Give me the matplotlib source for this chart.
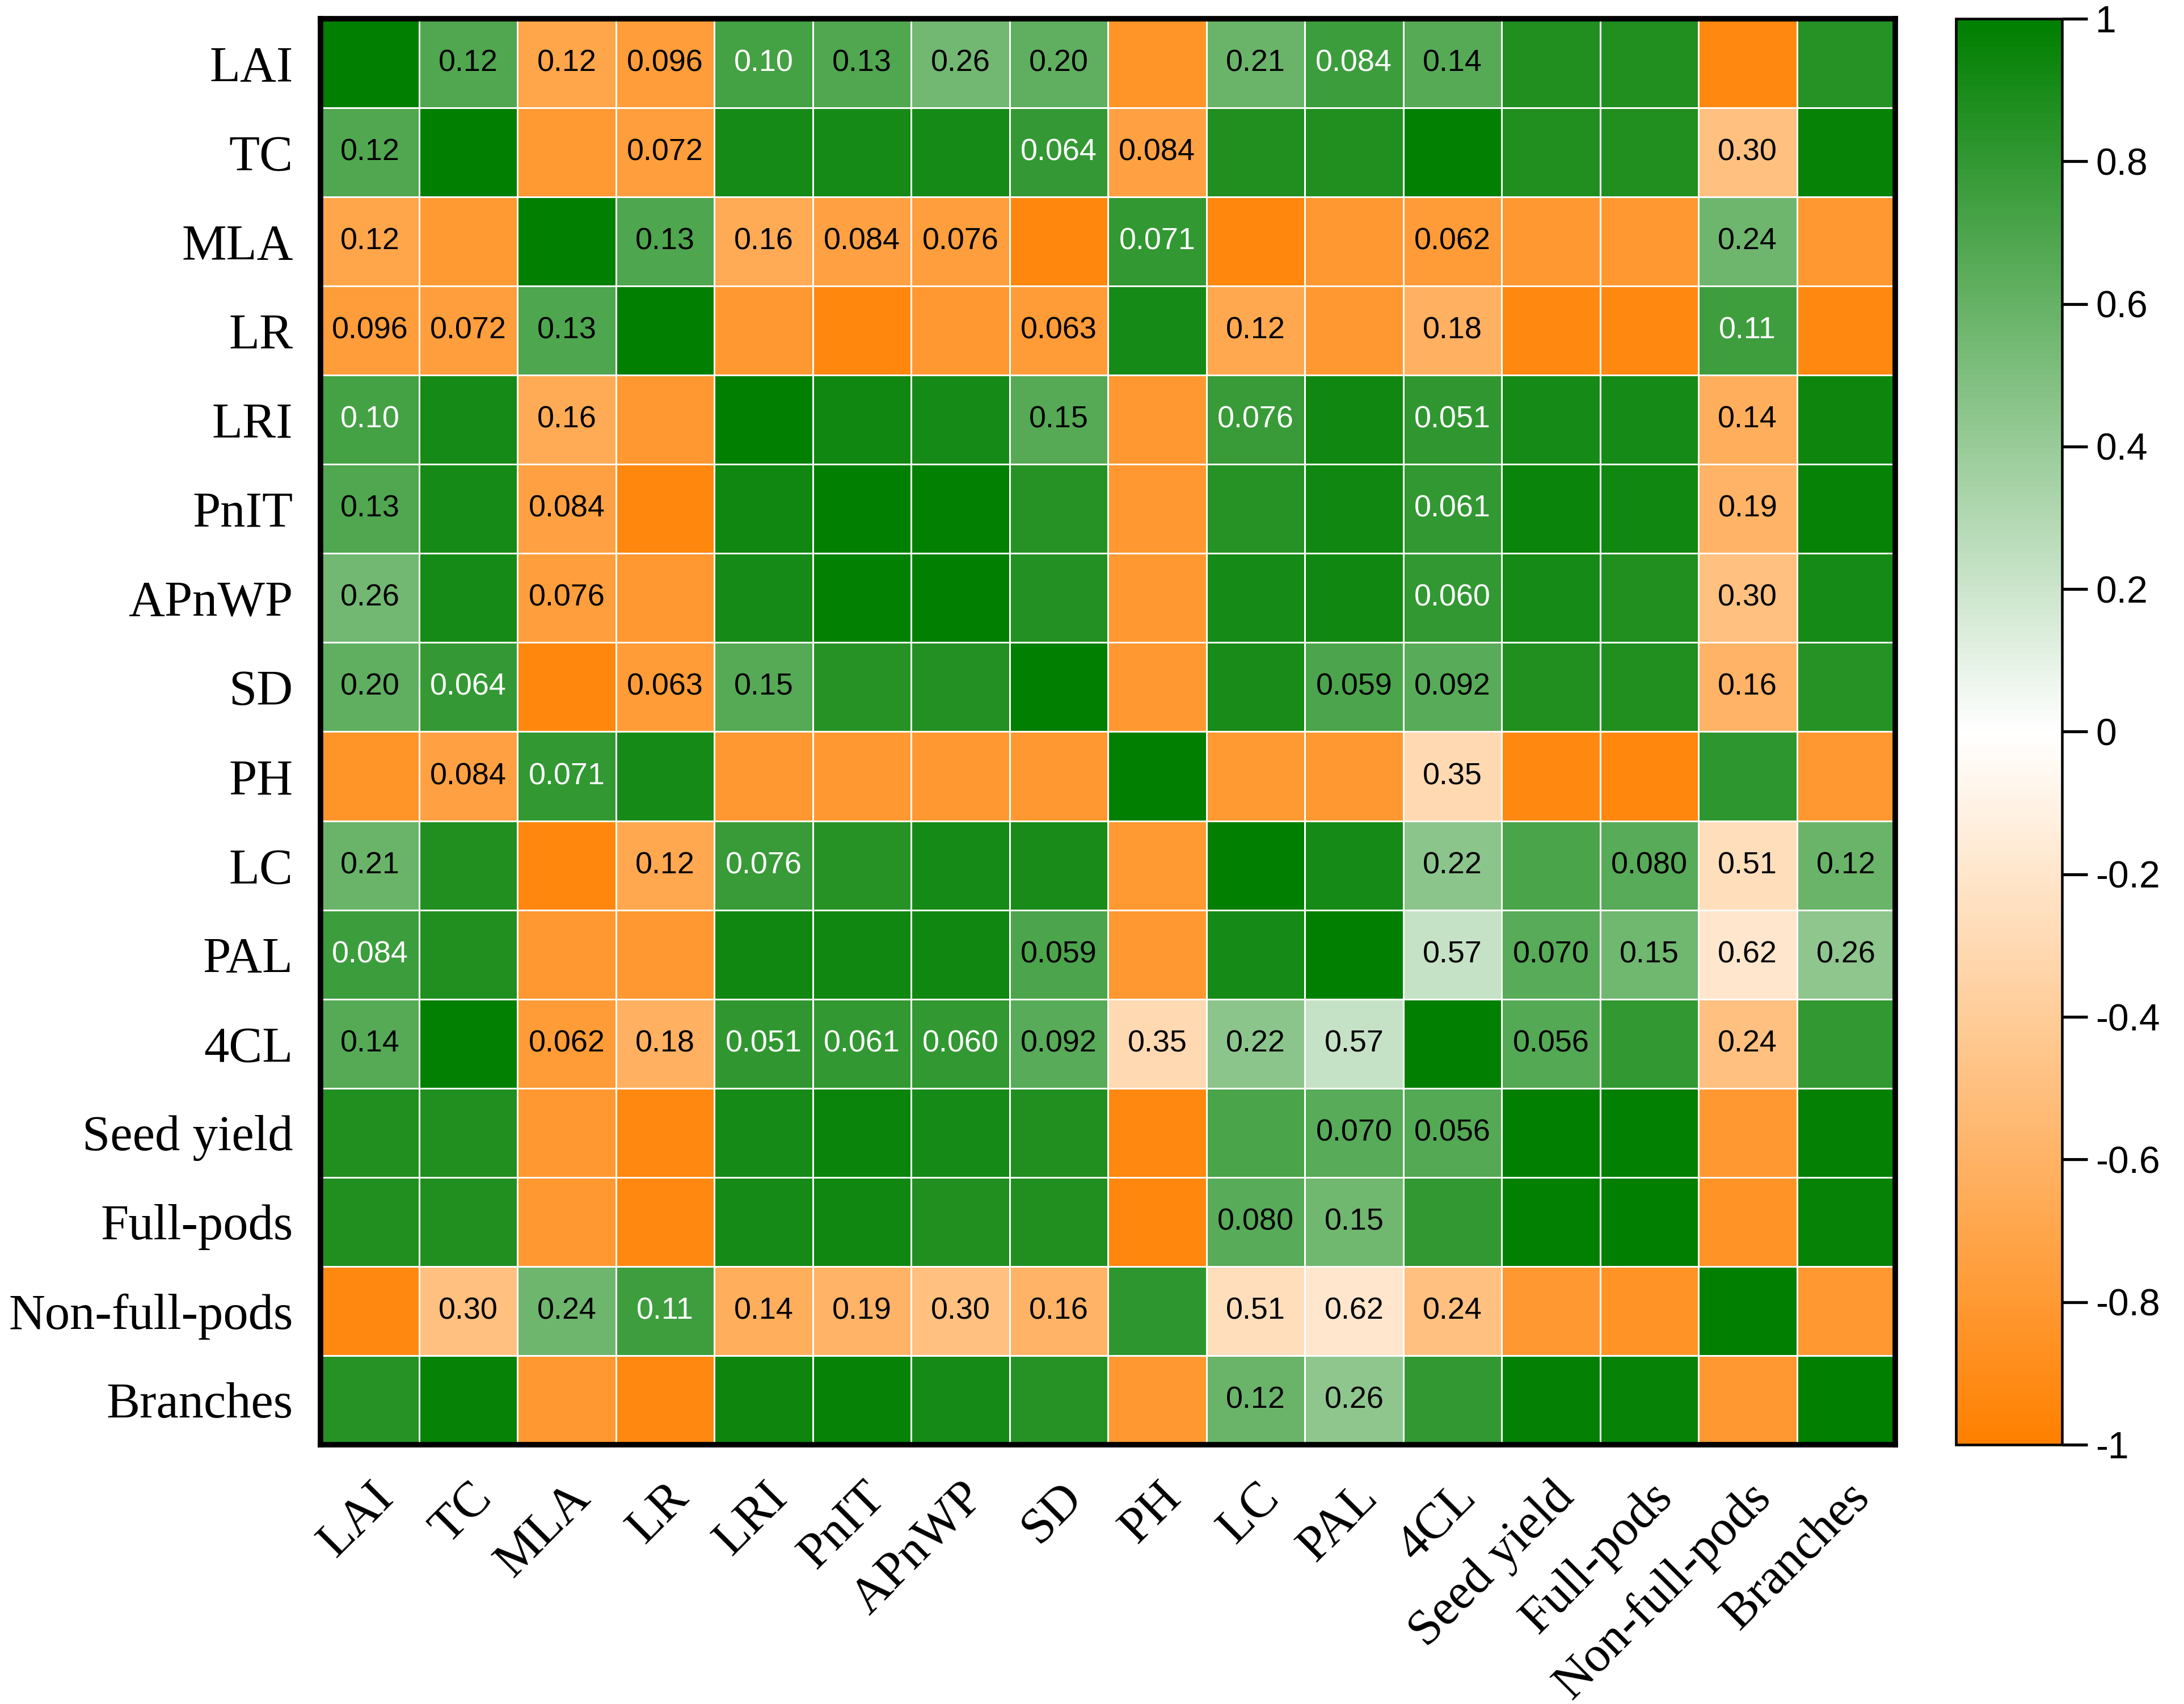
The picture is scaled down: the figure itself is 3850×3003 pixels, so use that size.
import numpy as np
import matplotlib
matplotlib.use('Agg')
import matplotlib.pyplot as plt
from matplotlib.colors import LinearSegmentedColormap

# variable names (rows top->bottom, columns left->right)
labels = ['LAI', 'TC', 'MLA', 'LR', 'LRI', 'PnIT', 'APnWP', 'SD', 'PH', 'LC',
          'PAL', '4CL', 'Seed yield', 'Full-pods', 'Non-full-pods', 'Branches']

r_upper = [
    [0.68, -0.71, -0.77, 0.73, 0.68, 0.55, 0.62, -0.84, 0.58, 0.76, 0.66, 0.87, 0.87, -0.93, 0.85],
    [-0.80, -0.76, 0.91, 0.91, 0.91, 0.79, -0.74, 0.87, 0.87, 0.99, 0.87, 0.87, -0.50, 0.97],
    [0.69, -0.66, -0.74, -0.76, -0.94, 0.80, -0.94, -0.81, -0.78, -0.81, -0.81, 0.57, -0.81],
    [-0.81, -0.94, -0.81, -0.78, 0.91, -0.68, -0.81, -0.62, -0.93, -0.93, 0.75, -0.93],
    [0.93, 0.91, 0.66, -0.81, 0.78, 0.93, 0.81, 0.91, 0.91, -0.64, 0.94],
    [0.99, 0.85, -0.81, 0.85, 0.93, 0.80, 0.96, 0.93, -0.60, 0.97],
    [0.86, -0.81, 0.91, 0.93, 0.80, 0.91, 0.87, -0.50, 0.91],
    [-0.81, 0.90, 0.70, 0.65, 0.87, 0.87, -0.60, 0.85],
    [-0.80, -0.81, -0.30, -0.93, -0.94, 0.82, -0.81],
    [0.91, 0.45, 0.71, 0.65, -0.26, 0.58],
    [0.22, 0.65, 0.56, -0.20, 0.44],
    [0.67, 0.80, -0.50, 0.80],
    [0.99, -0.81, 0.98],
    [-0.85, 0.97],
    [-0.81],
]

# p-values shown in the cells (None = significant, no label)
p_upper = [
    [0.12, 0.12, 0.096, 0.10, 0.13, 0.26, 0.20, None, 0.21, 0.084, 0.14, None, None, None, None],
    [None, 0.072, None, None, None, 0.064, 0.084, None, None, None, None, None, 0.30, None],
    [0.13, 0.16, 0.084, 0.076, None, 0.071, None, None, 0.062, None, None, 0.24, None],
    [None, None, None, 0.063, None, 0.12, None, 0.18, None, None, 0.11, None],
    [None, None, 0.15, None, 0.076, None, 0.051, None, None, 0.14, None],
    [None, None, None, None, None, 0.061, None, None, 0.19, None],
    [None, None, None, None, 0.060, None, None, 0.30, None],
    [None, None, 0.059, 0.092, None, None, 0.16, None],
    [None, None, 0.35, None, None, None, None],
    [None, 0.22, None, 0.080, 0.51, 0.12],
    [0.57, 0.070, 0.15, 0.62, 0.26],
    [0.056, None, 0.24, None],
    [None, None, None],
    [None, None],
    [None],
]

cbar_ticks = [-1, -0.8, -0.6, -0.4, -0.2, 0, 0.2, 0.4, 0.6, 0.8, 1]
cbar_labels = ['-1', '-0.8', '-0.6', '-0.4', '-0.2', '0', '0.2', '0.4', '0.6', '0.8', '1']

# build the full symmetric matrices
n = len(labels)
r = np.eye(n)
p = np.full((n, n), np.nan)
for i in range(n - 1):
    for k, j in enumerate(range(i + 1, n)):
        r[i, j] = r[j, i] = r_upper[i][k]
        if p_upper[i][k] is not None:
            p[i, j] = p[j, i] = p_upper[i][k]

cmap = LinearSegmentedColormap.from_list('og', ['#FF8000', '#FFFFFF', '#007F00'], N=256)

fig = plt.figure(figsize=(15.4, 12.012), dpi=250)
ax = fig.add_axes([0.1468, 0.1522, 0.7210, 0.8368])
cax = fig.add_axes([0.8956, 0.1522, 0.0486, 0.8368])

mesh = ax.pcolormesh(np.arange(n + 1), np.arange(n + 1), r, cmap=cmap, vmin=-1, vmax=1,
                     edgecolors='white', linewidth=0.8)
ax.set_xlim(0, n)
ax.set_ylim(n, 0)

# p-value labels, white on the darker green cells
for i in range(n):
    for j in range(n):
        if np.isnan(p[i, j]):
            continue
        txt = f'{p[i, j]:.2f}' if p[i, j] >= 0.1 else f'{p[i, j]:.3f}'
        col = 'white' if r[i, j] > 0.72 else 'black'
        ax.text(j + 0.5, i + 0.5, txt, ha='center', va='center', fontsize=15.5,
                color=col, family='Liberation Sans')

ax.set_xticks(np.arange(n) + 0.5)
ax.set_yticks(np.arange(n) + 0.5)
ax.set_xticklabels(labels, rotation=45, ha='right', va='top', rotation_mode='anchor',
                   family='Liberation Serif', fontsize=25.5)
ax.set_yticklabels(labels, family='Liberation Serif', fontsize=25.5)
ax.tick_params(axis='both', length=0)
ax.tick_params(axis='y', pad=14)
ax.tick_params(axis='x', pad=15)
for s in ax.spines.values():
    s.set_linewidth(2.8)
    s.set_color('black')

cb = fig.colorbar(mesh, cax=cax)
cb.set_ticks(cbar_ticks)
cb.set_ticklabels(cbar_labels)
cb.outline.set_linewidth(1.3)
cax.tick_params(length=13, width=1.5, labelsize=19, pad=4)
for t in cax.get_yticklabels():
    t.set_family('Liberation Sans')

fig.savefig('out.png', dpi=250)
